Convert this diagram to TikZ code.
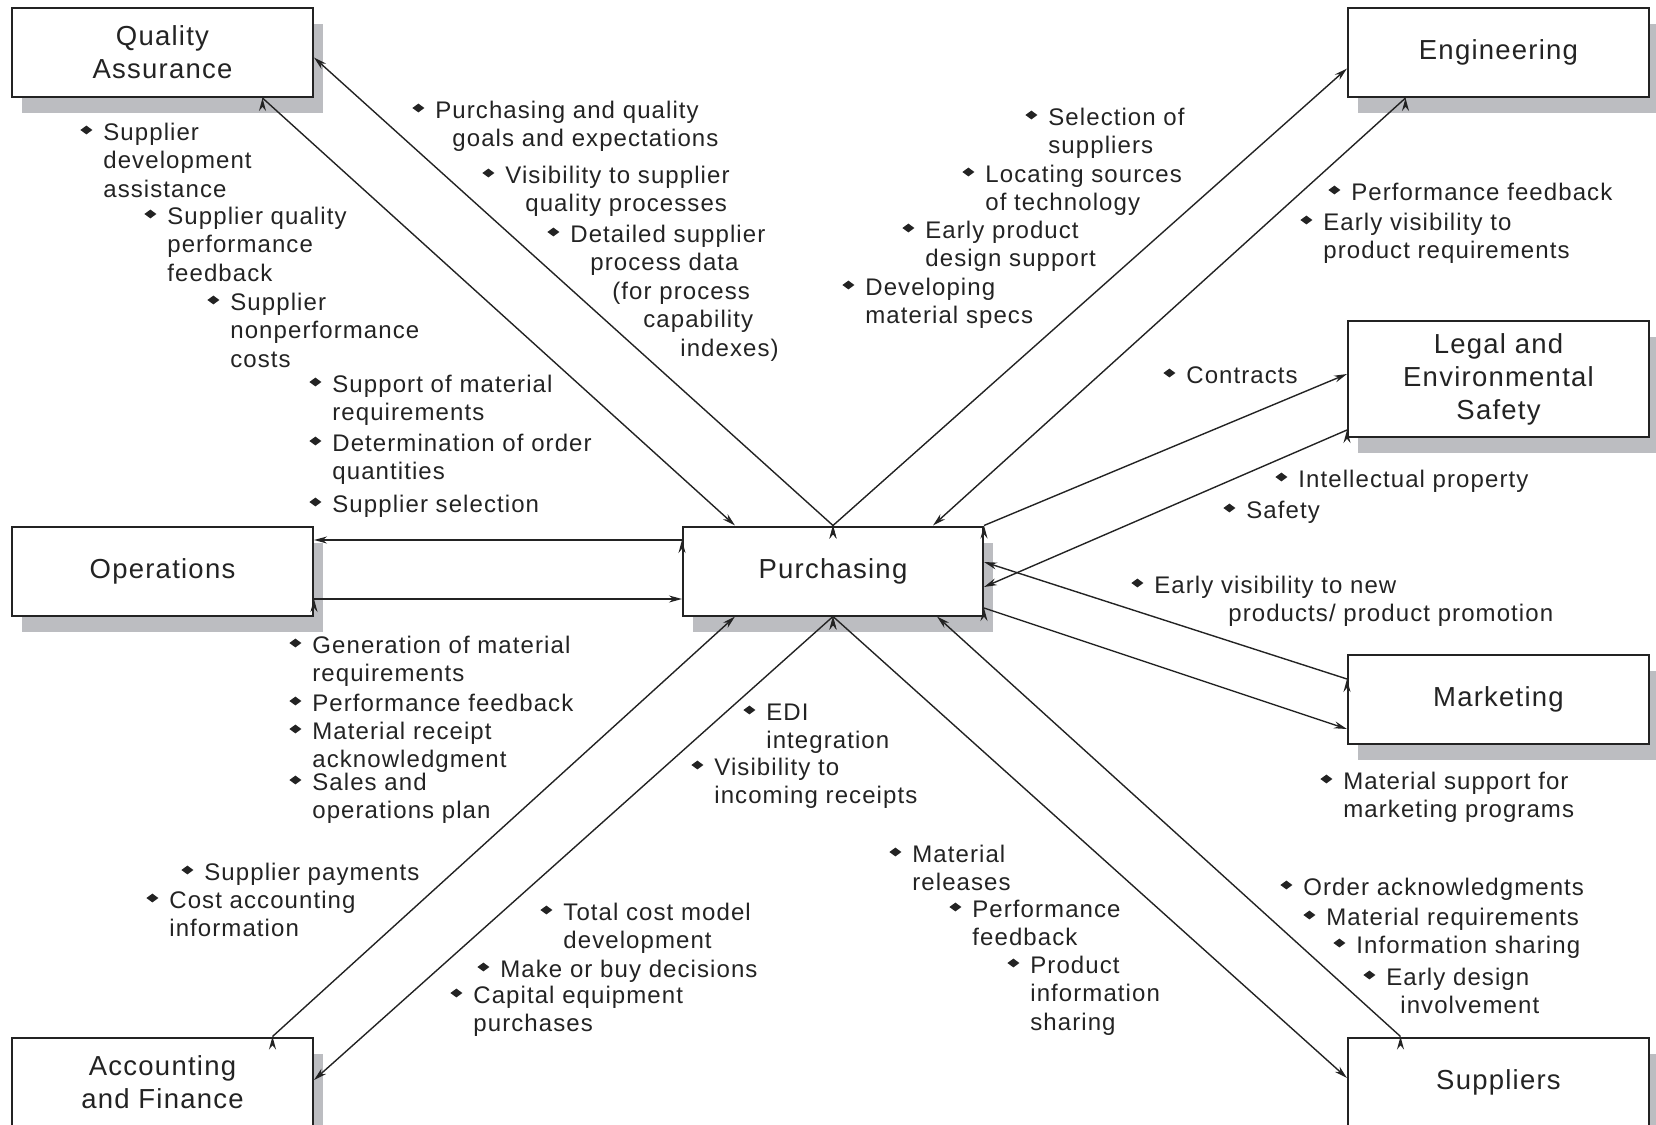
\documentclass[tikz,border=0pt]{standalone}
\usepackage{fontspec}
\setmainfont{Liberation Sans}[LetterSpace=4.5]
\usetikzlibrary{arrows.meta,calc,shadows}
\definecolor{shade}{RGB}{188,189,193}
\definecolor{ink}{RGB}{35,35,35}
\newcommand{\bul}{\makebox[11.5pt][l]{\tikz[baseline=0pt]\fill[ink] (0pt,5pt)--(3pt,7.2pt)--(6pt,5pt)--(3pt,2.8pt)--cycle;}}
\newcommand{\ind}[1][0pt]{\hspace*{\dimexpr11.5pt+#1\relax}}
\newcommand{\itm}[1]{\begin{tabular}[t]{@{}l@{}}#1\end{tabular}}
\begin{document}
\begin{tikzpicture}[x=0.5pt,y=-0.5pt,
  dept/.style={draw=ink,line width=1pt,fill=white,minimum width=150.5pt,minimum height=44.5pt,align=center,inner sep=2pt,text=ink,font=\fontsize{13.75}{16.5}\selectfont,drop shadow={shadow xshift=5pt,shadow yshift=-8pt,fill=shade,opacity=1}},
  item/.style={anchor=base west,inner sep=0pt,text=ink,font=\fontsize{12}{14.25}\selectfont},
  arr/.style={-{Stealth[length=6.5pt,width=3.5pt]},draw=ink,line width=0.7pt}]
\clip (0,0) rectangle (1656,1125);

\node[dept] (qa) at (162.5,52.5) {Quality\\Assurance};
\node[dept] (eng) at (1498.5,52.5) {Engineering};
\node[dept,minimum height=58pt] (legal) at (1498.5,379) {Legal and\\Environmental\\Safety};
\node[dept] (ops) at (162.5,571) {Operations};
\node[dept,minimum width=150pt] (pur) at (833,571) {Purchasing};
\node[dept] (mkt) at (1498.5,699) {Marketing};
\node[dept] (acc) at (162.5,1082) {Accounting\\and Finance};
\node[dept] (sup) at (1498.5,1082) {Suppliers};

\path [arr] ($(qa.south)+(100,0)$) edge ($(pur.north)+(-98,0)$);
\path [arr] (pur.north) edge ($(qa.east)+(0,5)$);
\path [arr] (pur.north) edge ($(eng.west)+(0,16)$);
\path [arr] ($(eng.south)+(-93,0)$) edge ($(pur.north)+(100,0)$);
\path [arr] (pur.north east) edge ($(legal.west)+(0,-5)$);
\path [arr] ($(legal.west)+(0,51)$) edge ($(pur.east)+(0,16)$);
\path [arr] ($(mkt.west)+(0,-20)$) edge ($(pur.east)+(0,-9)$);
\path [arr] ($(pur.east)+(0,37)$) edge ($(mkt.west)+(0,30)$);
\path [arr] ($(pur.west)+(0,-31)$) edge ($(ops.east)+(0,-31)$);
\path [arr] ($(ops.east)+(0,28)$) edge ($(pur.west)+(0,28)$);
\path [arr] ($(acc.north)+(110,0)$) edge ($(pur.south)+(-98,0)$);
\path [arr] (pur.south) edge ($(acc.east)+(0,-2)$);
\path [arr] (pur.south) edge ($(sup.west)+(0,-4)$);
\path [arr] ($(sup.north)+(-98,0)$) edge ($(pur.south)+(104,0)$);

% quality assurance
\node[item] (q1) at (80,140) {\itm{\bul Supplier\\\ind development\\\ind assistance}};
\node[item] (q2) at (144,224) {\itm{\bul Supplier quality\\\ind performance\\\ind feedback}};
\node[item] (q3) at (207,310) {\itm{\bul Supplier\\\ind nonperformance\\\ind costs}};
\node[item] (q4) at (412,118) {\itm{\bul Purchasing and quality\\\ind[8.5pt]goals and expectations}};
\node[item] (q5) at (482,183) {\itm{\bul Visibility to supplier\\\ind[10pt]quality processes}};
\node[item] (q6) at (547,242) {\itm{\bul Detailed supplier\\\ind[10pt]process data\\\ind[21pt](for process\\\ind[36.5pt]capability\\\ind[55pt]indexes)}};

% operations
\node[item] (o1) at (309,392) {\itm{\bul Support of material\\\ind requirements}};
\node[item] (o2) at (309,451) {\itm{\bul Determination of order\\\ind quantities}};
\node[item] (o3) at (309,512) {\bul Supplier selection};
\node[item] (o4) at (289,653) {\itm{\bul Generation of material\\\ind requirements}};
\node[item] (o5) at (289,711) {\bul Performance feedback};
\node[item] (o6) at (289,739) {\itm{\bul Material receipt\\\ind acknowledgment}};
\node[item] (o7) at (289,790) {\itm{\bul Sales and\\\ind operations plan}};

% engineering
\node[item] (e1) at (1025,125) {\itm{\bul Selection of\\\ind suppliers}};
\node[item] (e2) at (962,182) {\itm{\bul Locating sources\\\ind of technology}};
\node[item] (e3) at (902,238) {\itm{\bul Early product\\\ind design support}};
\node[item] (e4) at (842,295) {\itm{\bul Developing\\\ind material specs}};
\node[item] (e5) at (1328,200) {\bul Performance feedback};
\node[item] (e6) at (1300,230) {\itm{\bul Early visibility to\\\ind product requirements}};

% legal and marketing
\node[item] (l1) at (1163,383) {\bul Contracts};
\node[item] (l2) at (1275,487) {\bul Intellectual property};
\node[item] (l3) at (1223,518) {\bul Safety};
\node[item] (m1) at (1131,593) {\itm{\bul Early visibility to new\\\ind[37pt]products/ product promotion}};
\node[item] (m2) at (1320,789) {\itm{\bul Material support for\\\ind marketing programs}};

% suppliers
\node[item] (s1) at (1280,895) {\bul Order acknowledgments};
\node[item] (s2) at (1303,925) {\bul Material requirements};
\node[item] (s3) at (1333,953) {\bul Information sharing};
\node[item] (s4) at (1363,985) {\itm{\bul Early design\\\ind[7pt]involvement}};
\node[item] (s5) at (889,862) {\itm{\bul Material\\\ind releases}};
\node[item] (s6) at (949,917) {\itm{\bul Performance\\\ind feedback}};
\node[item] (s7) at (1007,973) {\itm{\bul Product\\\ind information\\\ind sharing}};
\node[item] (s8) at (743,720) {\itm{\bul EDI\\\ind integration}};
\node[item] (s9) at (691,775) {\itm{\bul Visibility to\\\ind incoming receipts}};

% accounting and finance
\node[item] (a1) at (540,920) {\itm{\bul Total cost model\\\ind development}};
\node[item] (a2) at (477,977) {\bul Make or buy decisions};
\node[item] (a3) at (450,1003) {\itm{\bul Capital equipment\\\ind purchases}};
\node[item] (a4) at (181,880) {\bul Supplier payments};
\node[item] (a5) at (146,908) {\itm{\bul Cost accounting\\\ind information}};
\end{tikzpicture}
\end{document}
